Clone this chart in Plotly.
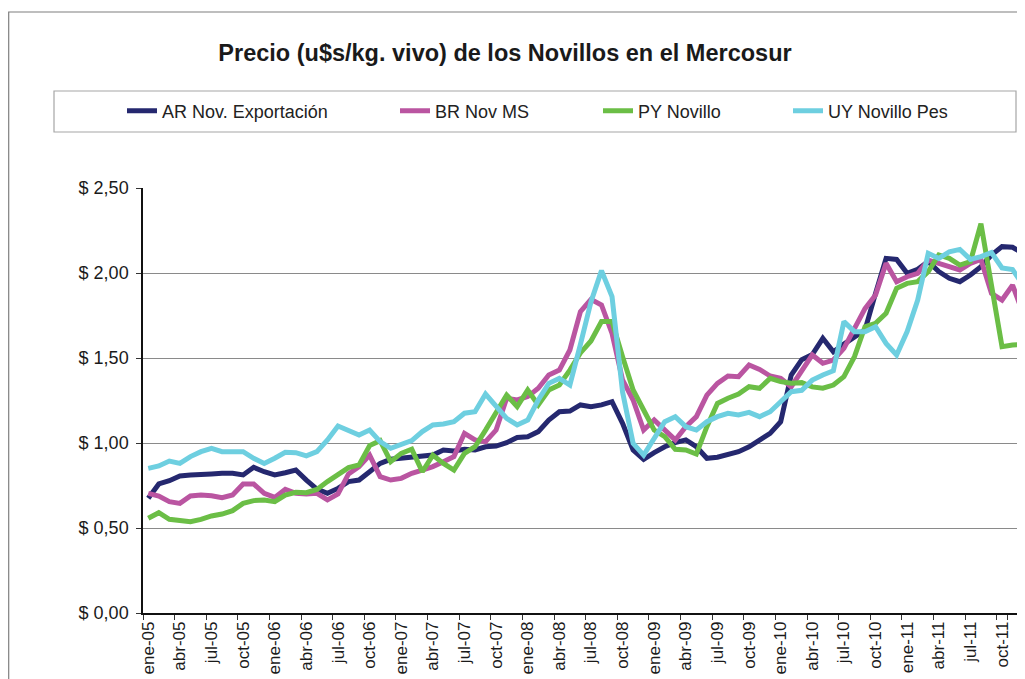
import plotly.graph_objects as go

months = ["ene", "feb", "mar", "abr", "may", "jun", "jul", "ago", "sep", "oct", "nov", "dic"]
years = ["05", "06", "07", "08", "09", "10", "11"]
categories = [f"{m}-{y}" for y in years for m in months]

ar_nov_exportacion = [
    0.675, 0.759, 0.778, 0.806, 0.812, 0.812, 0.818, 0.822, 0.822, 0.812, 0.857, 0.831,
    0.812, 0.825, 0.841, 0.782, 0.729, 0.704, 0.733, 0.773, 0.782, 0.831, 0.880, 0.904,
    0.910, 0.920, 0.924, 0.929, 0.959, 0.953, 0.963, 0.959, 0.978, 0.982, 1.002, 1.033,
    1.037, 1.067, 1.135, 1.184, 1.188, 1.224, 1.214, 1.224, 1.243, 1.116, 0.959, 0.904,
    0.943, 0.978, 1.002, 1.018, 0.978, 0.910, 0.916, 0.929, 0.949, 0.978, 1.014, 1.057,
    1.125, 1.400, 1.490, 1.520, 1.616, 1.537, 1.582, 1.625, 1.665, 1.880, 2.086, 2.080,
    1.998, 2.022, 2.067, 2.008, 1.969, 1.949, 1.988, 2.037, 2.106, 2.155, 2.151, 2.116,
]
br_nov_ms = [
    0.704, 0.688, 0.655, 0.645, 0.688, 0.694, 0.690, 0.678, 0.694, 0.759, 0.759, 0.704,
    0.680, 0.727, 0.704, 0.700, 0.704, 0.665, 0.700, 0.818, 0.861, 0.929, 0.802, 0.782,
    0.792, 0.822, 0.841, 0.861, 0.890, 0.920, 1.057, 1.018, 1.008, 1.076, 1.263, 1.253,
    1.273, 1.322, 1.400, 1.429, 1.547, 1.773, 1.845, 1.812, 1.645, 1.371, 1.253, 1.076,
    1.135, 1.076, 1.018, 1.096, 1.155, 1.282, 1.351, 1.394, 1.390, 1.459, 1.433, 1.394,
    1.380, 1.331, 1.430, 1.518, 1.469, 1.488, 1.557, 1.670, 1.790, 1.870, 2.057, 1.949,
    1.978, 1.998, 2.076, 2.057, 2.037, 2.018, 2.057, 2.080, 1.880, 1.841, 1.929, 1.763,
]
py_novillo = [
    0.557, 0.590, 0.551, 0.543, 0.537, 0.551, 0.571, 0.582, 0.602, 0.645, 0.661, 0.665,
    0.655, 0.694, 0.710, 0.708, 0.727, 0.773, 0.818, 0.855, 0.871, 0.985, 1.014, 0.890,
    0.939, 0.963, 0.831, 0.929, 0.880, 0.841, 0.939, 0.978, 1.076, 1.184, 1.282, 1.214,
    1.312, 1.224, 1.312, 1.341, 1.429, 1.530, 1.600, 1.714, 1.714, 1.508, 1.312, 1.194,
    1.076, 1.037, 0.963, 0.959, 0.935, 1.096, 1.233, 1.263, 1.288, 1.331, 1.322, 1.380,
    1.361, 1.351, 1.355, 1.330, 1.322, 1.341, 1.390, 1.508, 1.684, 1.704, 1.763, 1.910,
    1.939, 1.949, 2.008, 2.106, 2.086, 2.047, 2.067, 2.290, 1.930, 1.567, 1.576, 1.582,
]
uy_novillo_pes = [
    0.851, 0.865, 0.894, 0.880, 0.920, 0.949, 0.969, 0.949, 0.949, 0.949, 0.910, 0.880,
    0.910, 0.945, 0.943, 0.924, 0.949, 1.018, 1.100, 1.073, 1.047, 1.076, 1.008, 0.969,
    0.994, 1.014, 1.067, 1.106, 1.112, 1.125, 1.175, 1.184, 1.288, 1.214, 1.145, 1.106,
    1.135, 1.253, 1.351, 1.380, 1.341, 1.580, 1.830, 2.014, 1.861, 1.300, 0.998, 0.929,
    1.027, 1.125, 1.155, 1.096, 1.076, 1.125, 1.155, 1.175, 1.165, 1.180, 1.155, 1.184,
    1.243, 1.302, 1.310, 1.370, 1.400, 1.425, 1.714, 1.655, 1.655, 1.684, 1.586, 1.518,
    1.655, 1.841, 2.116, 2.086, 2.125, 2.139, 2.080, 2.096, 2.120, 2.030, 2.020, 1.930,
]

series_names = ["AR Nov. Exportación", "BR Nov MS", "PY Novillo", "UY Novillo Pes"]
series_values = [ar_nov_exportacion, br_nov_ms, py_novillo, uy_novillo_pes]
series_colors = ["#25286F", "#BA55A1", "#6BBE46", "#6ECFE0"]

ytick_vals = [0, 0.5, 1.0, 1.5, 2.0, 2.5]
ytick_text = ["$ 0,00", "$ 0,50", "$ 1,00", "$ 1,50", "$ 2,00", "$ 2,50"]

# page offset of the plot div (default body margin)
OFF = 8
W, H = 1025, 679
# target page positions of plot area
PL, PT, PB = 143, 188, 613
L = PL - OFF
T = PT - OFF
B = H - (PB - OFF)
R = 0
pw, ph = W - L - R, H - T - B


def px_x(x):
    return (x - OFF - L) / pw


def px_y(y):
    return (H - B - (y - OFF)) / ph


SANS = "Liberation Sans, Arial, sans-serif"

fig = go.Figure()
legend_ids = ["legend", "legend2", "legend3", "legend4"]
for name, vals, col, lg in zip(series_names, series_values, series_colors, legend_ids):
    fig.add_trace(go.Scatter(
        x=categories, y=vals, name=name, mode="lines",
        line=dict(color=col, width=5),
        legend=lg,
    ))

legend_x_px = [122, 395, 598, 788]
legend_common = dict(
    orientation="h", xanchor="left", yanchor="middle",
    bgcolor="rgba(0,0,0,0)", borderwidth=0,
    font=dict(family=SANS, size=18, color="#222222"),
    itemwidth=30, tracegroupgap=0,
)
layout_legends = {}
for lg, xp in zip(legend_ids, legend_x_px):
    layout_legends[lg] = dict(x=px_x(xp), y=px_y(111), **legend_common)

fig.update_layout(
    width=W, height=H,
    margin=dict(l=L, r=R, t=T, b=B, pad=0),
    paper_bgcolor="white", plot_bgcolor="white",
    showlegend=True,
    title=dict(
        text="<b>Precio (u$s/kg. vivo) de los Novillos en el Mercosur</b>",
        x=(505 - OFF) / W, xanchor="center", xref="container",
        y=1 - (53 - OFF) / H, yanchor="middle", yref="container",
        font=dict(family=SANS, size=23.5, color="#1a1a1a"),
    ),
    xaxis=dict(
        type="category", categoryorder="array", categoryarray=categories,
        range=[-0.5, -0.5 + pw / 10.54],
        tickvals=categories[::3], tickson="boundaries",
        tickangle=-90, ticks="outside", ticklen=5, tickcolor="#333333",
        tickfont=dict(family=SANS, size=17, color="#1a1a1a"),
        showline=True, linecolor="#111111", linewidth=1.5,
        showgrid=False, zeroline=False, automargin=False,
    ),
    yaxis=dict(
        range=[0, 2.5], tickvals=ytick_vals, ticktext=ytick_text,
        ticks="outside", ticklen=5, tickcolor="#333333",
        tickfont=dict(family=SANS, size=18, color="#1a1a1a"),
        ticklabelstandoff=4,
        showline=True, linecolor="#111111", linewidth=1.5,
        showgrid=True, gridcolor="#8a8a8a", gridwidth=1,
        zeroline=False, automargin=False,
    ),
    **layout_legends,
)

# outer chart frame and legend box
fig.add_shape(type="rect", xref="paper", yref="paper",
              x0=px_x(8.7), x1=px_x(1045), y0=px_y(700), y1=px_y(12),
              line=dict(color="#7f7f7f", width=1.2), fillcolor="rgba(0,0,0,0)", layer="below")
fig.add_shape(type="rect", xref="paper", yref="paper",
              x0=px_x(54), x1=px_x(1016), y0=px_y(132), y1=px_y(91),
              line=dict(color="#a6a6a6", width=1.2), fillcolor="rgba(0,0,0,0)", layer="below")

fig.write_html("out.html")
